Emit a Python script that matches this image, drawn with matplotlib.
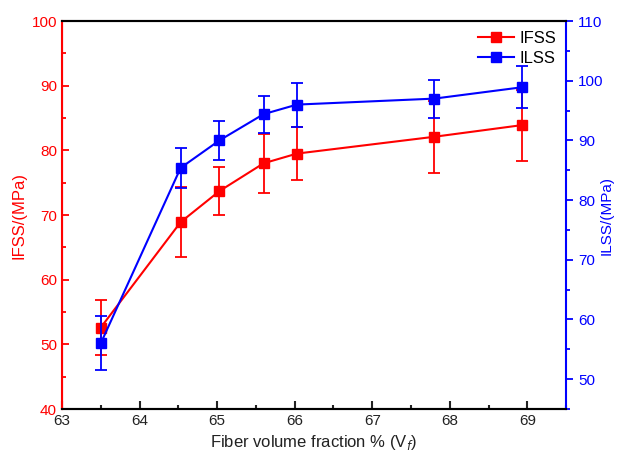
import matplotlib
matplotlib.use('Agg')
import matplotlib.pyplot as plt
from matplotlib.ticker import MultipleLocator
from matplotlib.lines import Line2D

plt.rcParams['font.family'] = ['Liberation Sans', 'DejaVu Sans']

# Fiber volume fraction (%)
vf = [63.5, 64.53, 65.03, 65.6, 66.03, 67.8, 68.93]

# IFSS (left axis)
ifss = [52.6, 68.9, 73.7, 78.0, 79.5, 82.1, 83.9]
ifss_err = [4.2, 5.4, 3.7, 4.6, 4.1, 5.6, 5.5]

# ILSS (right axis)
ilss = [56.0, 85.4, 90.0, 94.4, 96.0, 97.0, 98.9]
ilss_err = [4.5, 3.4, 3.3, 3.1, 3.7, 3.2, 3.5]

red = '#ff0000'
blue = '#0000ff'

fig = plt.figure(figsize=(6.18, 4.62), dpi=100)
ax = fig.add_axes([0.1003, 0.1147, 0.8157, 0.8398])
ax2 = ax.twinx()

ax.errorbar(vf, ifss, yerr=ifss_err, color=red, marker='s', markersize=7,
            lw=1.5, capsize=4, elinewidth=1.3, capthick=1.3)
ax2.errorbar(vf, ilss, yerr=ilss_err, color=blue, marker='s', markersize=7,
             lw=1.5, capsize=4, elinewidth=1.3, capthick=1.3)

ax.set_xlim(63, 69.5)
ax.set_ylim(40, 100)
ax2.set_ylim(45, 110)

ax.xaxis.set_major_locator(MultipleLocator(1))
ax.xaxis.set_minor_locator(MultipleLocator(0.5))
ax.yaxis.set_major_locator(MultipleLocator(10))
ax.yaxis.set_minor_locator(MultipleLocator(5))
ax2.yaxis.set_major_locator(MultipleLocator(10))
ax2.yaxis.set_minor_locator(MultipleLocator(5))

ax.tick_params(axis='x', which='both', direction='in', colors='#222222', labelsize=11,
               width=1.5, top=False)
ax.tick_params(axis='x', which='major', length=6)
ax.tick_params(axis='x', which='minor', length=3)
ax.tick_params(axis='y', which='both', direction='in', colors=red, labelsize=11, width=1.3)
ax.tick_params(axis='y', which='major', length=5)
ax.tick_params(axis='y', which='minor', length=3)
ax2.tick_params(axis='y', which='both', direction='out', colors=blue, labelsize=11, width=1.3)
ax2.tick_params(axis='y', which='major', length=5)
ax2.tick_params(axis='y', which='minor', length=3)

for s in ['top', 'bottom']:
    ax.spines[s].set_linewidth(1.5)
    ax2.spines[s].set_linewidth(1.5)
ax2.spines['left'].set_color(red)
ax2.spines['left'].set_linewidth(1.5)
ax2.spines['right'].set_color(blue)
ax2.spines['right'].set_linewidth(1.5)
ax.spines['left'].set_color(red)
ax.spines['right'].set_visible(False)

ax.set_xlabel('Fiber volume fraction % (V$_f$)', fontsize=12, color='#222222')
ax.set_ylabel('IFSS/(MPa)', fontsize=12, color=red)
ax2.set_ylabel('ILSS/(MPa)', fontsize=11, color=blue, va='center')
ax2.yaxis.set_label_coords(1.081, 0.5)

h1 = Line2D([], [], color=red, marker='s', markersize=7, lw=1.5)
h2 = Line2D([], [], color=blue, marker='s', markersize=7, lw=1.5)
ax.legend([h1, h2], ['IFSS', 'ILSS'], loc='upper right', frameon=False,
          fontsize=12, handlelength=2.2, handletextpad=0.3,
          borderaxespad=0.2, labelspacing=0.3)

fig.savefig('out.png', dpi=100)
